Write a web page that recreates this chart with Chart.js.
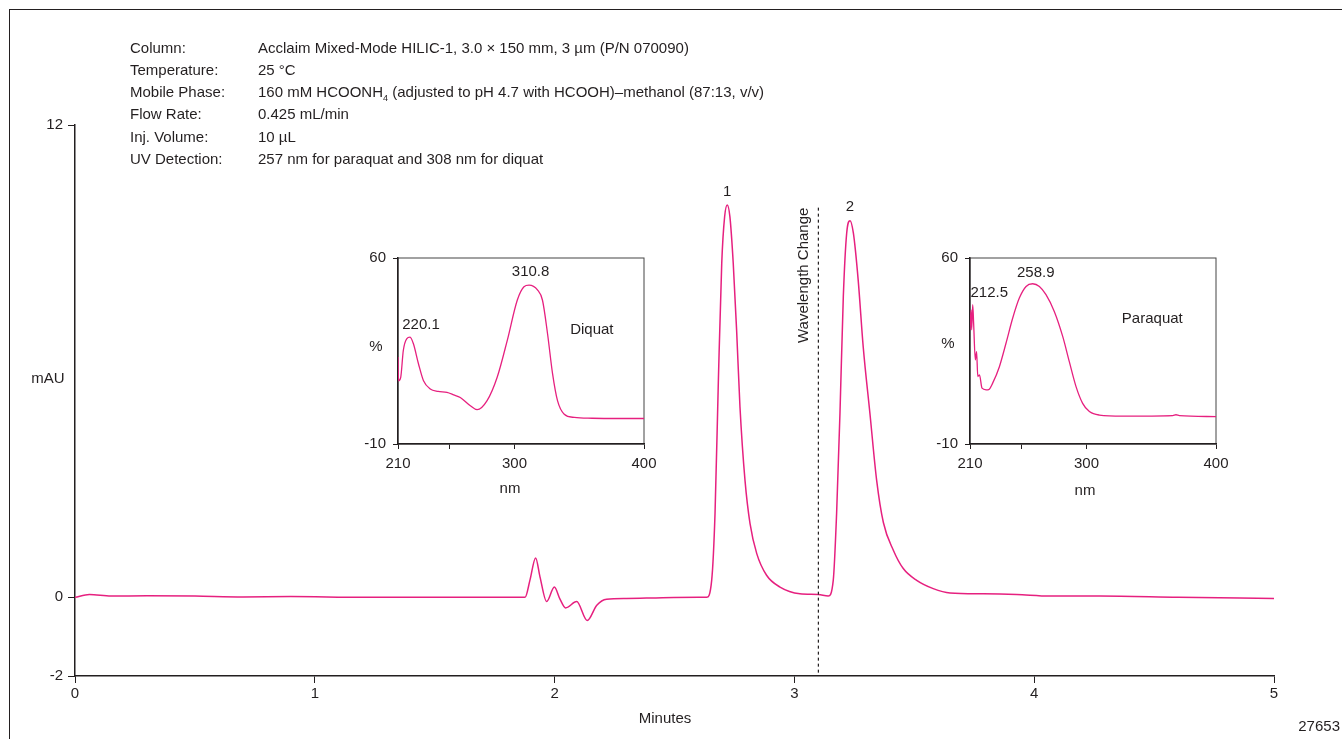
<!DOCTYPE html>
<html>
<head>
<meta charset="utf-8">
<script src="https://cdn.jsdelivr.net/npm/chart.js@4.4.0/dist/chart.umd.min.js"></script>
<style>
body{margin:0;background:#fff;}
#wrap{position:relative;width:1342px;height:739px;overflow:hidden;font-family:"Liberation Sans Narrow","Liberation Sans",Arial,sans-serif;color:#231f20;}
#frame{position:absolute;left:9px;top:9px;width:1400px;height:800px;border-left:1px solid #231f20;border-top:1px solid #231f20;}
canvas{position:absolute;}
.t{position:absolute;font-size:15px;line-height:18px;white-space:nowrap;}
.c{transform:translateX(-50%);}
.r{transform:translateX(-100%);}
</style>
</head>
<body>
<div id="wrap">
<div id="frame"></div>
<canvas id="main" width="1342" height="739" style="left:0;top:0;"></canvas>
<canvas id="diquat" width="330" height="270" style="left:330px;top:240px;"></canvas>
<canvas id="paraquat" width="330" height="270" style="left:902px;top:240px;"></canvas>

<div class="t" style="left:130px;top:39px;">Column:</div>
<div class="t" style="left:258px;top:39px;">Acclaim Mixed-Mode HILIC-1, 3.0 × 150 mm, 3 µm (P/N 070090)</div>
<div class="t" style="left:130px;top:61px;">Temperature:</div>
<div class="t" style="left:258px;top:61px;">25 °C</div>
<div class="t" style="left:130px;top:83px;">Mobile Phase:</div>
<div class="t" style="left:258px;top:83px;">160 mM HCOONH<sub style="font-size:9px;">4</sub> (adjusted to pH 4.7 with HCOOH)–methanol (87:13, v/v)</div>
<div class="t" style="left:130px;top:105px;">Flow Rate:</div>
<div class="t" style="left:258px;top:105px;">0.425 mL/min</div>
<div class="t" style="left:130px;top:128px;">Inj. Volume:</div>
<div class="t" style="left:258px;top:128px;">10 µL</div>
<div class="t" style="left:130px;top:150px;">UV Detection:</div>
<div class="t" style="left:258px;top:150px;">257 nm for paraquat and 308 nm for diquat</div>

<div class="t c" style="left:48px;top:369px;">mAU</div>
<div class="t c" style="left:665px;top:709px;">Minutes</div>
<div class="t r" style="left:1340px;top:717px;">27653</div>
<div class="t c" style="left:376px;top:337px;">%</div>
<div class="t c" style="left:510px;top:479px;">nm</div>
<div class="t c" style="left:948px;top:334px;">%</div>
<div class="t c" style="left:1085px;top:481px;">nm</div>
</div>

<script>
// chromatogram (minutes, mAU)
var times = [0, 0.06, 0.15, 0.3, 0.5, 0.7, 0.9, 1.2, 1.5, 1.8, 1.877, 1.897, 1.921, 1.939, 1.967, 1.999, 2.022, 2.046, 2.092, 2.136, 2.176, 2.217, 2.3, 2.45, 2.6,
  2.634, 2.655, 2.669, 2.683, 2.697, 2.709, 2.720, 2.731, 2.745, 2.759, 2.773, 2.794, 2.815, 2.843, 2.884, 2.940, 3.023, 3.100, 3.141,
  3.162, 3.176, 3.190, 3.204, 3.218, 3.232, 3.246, 3.266, 3.287, 3.315, 3.343, 3.371, 3.413, 3.454, 3.510, 3.579, 3.649, 3.788, 3.927, 4.066, 4.274, 4.6, 5];
var mau = [0, 0.07, 0.03, 0.04, 0.03, 0.01, 0.02, 0, 0, 0, 0, 0.43, 1.0, 0.52, -0.11, 0.26, -0.04, -0.27, -0.11, -0.59, -0.2, -0.05, -0.03, -0.01, 0,
  0, 0.43, 2.13, 5.52, 8.49, 9.67, 9.97, 9.67, 8.48, 6.79, 4.84, 2.97, 1.87, 1.11, 0.56, 0.26, 0.09, 0.07, 0.03,
  0.43, 2.13, 4.67, 7.64, 9.25, 9.57, 9.25, 8.06, 6.36, 4.67, 2.97, 1.9, 1.19, 0.73, 0.43, 0.22, 0.11, 0.09, 0.07, 0.03, 0.03, 0.0, -0.03];
var xTicks = [0, 1, 2, 3, 4, 5];
var yTicks = [-2, 0, 12];
var peakNames = ['1', '2'];
var peakTimes = [2.720, 3.232];
var switchTime = 3.1;

// UV spectra (nm, %)
var diquatNm = [210, 210.4, 212.1, 214.1, 216.7, 219.3, 221.9, 225.8, 229.7, 234.9, 241, 247.8, 253, 258.1, 265.9, 271.1, 278.8, 286.6, 294.4,
  302.1, 307.3, 311.2, 317.7, 321.6, 325.5, 329.4, 333.2, 338.4, 346.2, 360, 380, 400];
var diquatPct = [22.7, 13.8, 15.1, 25.2, 29.6, 30.2, 27.7, 20.2, 13.8, 10.7, 9.8, 9.4, 8.5, 7.5, 4.4, 2.9, 6.3, 15.1, 29,
  44.1, 49.2, 49.8, 48, 44.1, 31.5, 16.4, 6.3, 1.2, 0, -0.3, -0.4, -0.4];
var paraquatNm = [210, 210.8, 211.3, 212.1, 212.8, 214.1, 215.1, 216, 217.3, 219.3, 222.4, 224.5, 227.5, 232.7, 237.8, 243, 248.1, 253.3, 258.4,
  263.6, 268.7, 275.1, 281.6, 286.7, 291.9, 297, 302.2, 309.9, 327.9, 366.6, 369.1, 371.7, 400];
var paraquatPct = [33, 40.5, 33, 42.4, 35.5, 21.7, 24.8, 15.4, 16, 11, 10.4, 10.5, 12.9, 19.1, 27.9, 37.4, 44.9, 49.3, 50.3,
  49.3, 46.2, 39.9, 30.5, 21, 11.6, 5.3, 2.2, 0.9, 0.5, 0.7, 1.0, 0.7, 0.3];
var nmTicks = [210, 250, 300, 400];
var nmLabels = [210, 300, 400];
var pctTicks = [-10, 60];
var diquatNotes = [['220.1', 227.8, 34.7], ['310.8', 312.4, 54.7], ['Diquat', 359.7, 32.9]];
var paraquatNotes = [['212.5', 224.9, 46.8], ['258.9', 260.8, 54.3], ['Paraquat', 350.8, 37.1]];

var ink = '#231f20';
var pink = '#e6207f';
var fam = '"Liberation Sans Narrow","Liberation Sans",Arial,sans-serif';
Chart.defaults.font.family = fam;
Chart.defaults.font.size = 15;
Chart.defaults.color = ink;
Chart.defaults.animation = false;

function pts(xs, ys) {
  return xs.map(function (v, i) { return {x: v, y: ys[i]}; });
}

// keep the plot box where it is, whatever the edge labels need
function fixX(h) {
  return function (s) { s.height = h; s.paddingLeft = 0; s.paddingRight = 0; };
}
function fixY(w) {
  return function (s) { s.width = w; s.paddingTop = 0; s.paddingBottom = 0; };
}

var mainMarks = {
  id: 'mainMarks',
  afterDatasetsDraw: function (chart) {
    var ctx = chart.ctx, xs = chart.scales.x, ys = chart.scales.y;
    var lx = xs.getPixelForValue(switchTime);
    ctx.save();
    ctx.strokeStyle = ink;
    ctx.lineWidth = 1.2;
    ctx.setLineDash([3, 3]);
    ctx.beginPath();
    ctx.moveTo(lx, ys.getPixelForValue(9.9));
    ctx.lineTo(lx, ys.getPixelForValue(-2));
    ctx.stroke();
    ctx.setLineDash([]);
    ctx.fillStyle = ink;
    ctx.font = '15px ' + fam;
    ctx.textAlign = 'center';
    ctx.textBaseline = 'bottom';
    peakNames.forEach(function (n, i) {
      var v = mau[times.indexOf(peakTimes[i])];
      ctx.fillText(n, xs.getPixelForValue(peakTimes[i]), ys.getPixelForValue(v) - 6);
    });
    ctx.translate(lx - 15, ys.getPixelForValue(9.9));
    ctx.rotate(-Math.PI / 2);
    ctx.textAlign = 'right';
    ctx.textBaseline = 'middle';
    ctx.fillText('Wavelength Change', 0, 0);
    ctx.restore();
  }
};

new Chart(document.getElementById('main'), {
  type: 'line',
  data: {
    datasets: [{
      data: pts(times, mau),
      borderColor: pink,
      borderWidth: 1.5,
      pointRadius: 0,
      cubicInterpolationMode: 'monotone'
    }]
  },
  options: {
    responsive: false,
    layout: {padding: {left: 0, top: 125, right: 68, bottom: 0}},
    plugins: {legend: {display: false}, tooltip: {enabled: false}},
    scales: {
      x: {
        type: 'linear', min: 0, max: 5,
        afterBuildTicks: function (s) { s.ticks = xTicks.map(function (v) { return {value: v}; }); },
        afterFit: fixX(63),
        ticks: {padding: 2, maxRotation: 0},
        grid: {drawOnChartArea: false, tickLength: 7, color: ink},
        border: {color: ink, width: 1.5}
      },
      y: {
        type: 'linear', min: -2, max: 12,
        afterBuildTicks: function (s) { s.ticks = yTicks.map(function (v) { return {value: v}; }); },
        afterFit: fixY(75),
        ticks: {padding: 5},
        grid: {drawOnChartArea: false, tickLength: 7, color: ink},
        border: {color: ink, width: 1.5}
      }
    }
  },
  plugins: [mainMarks]
});

function inset(id, nm, pct, notes) {
  var boxAndNotes = {
    id: 'boxAndNotes',
    beforeDraw: function (chart) {
      var a = chart.chartArea, ctx = chart.ctx;
      ctx.save();
      ctx.strokeStyle = '#444';
      ctx.lineWidth = 1;
      ctx.strokeRect(a.left, a.top, a.right - a.left, a.bottom - a.top);
      ctx.restore();
    },
    afterDatasetsDraw: function (chart) {
      var ctx = chart.ctx, xs = chart.scales.x, ys = chart.scales.y;
      ctx.save();
      ctx.fillStyle = ink;
      ctx.font = '15px ' + fam;
      ctx.textAlign = 'center';
      ctx.textBaseline = 'middle';
      notes.forEach(function (n) {
        ctx.fillText(n[0], xs.getPixelForValue(n[1]), ys.getPixelForValue(n[2]));
      });
      ctx.restore();
    }
  };
  return new Chart(document.getElementById(id), {
    type: 'line',
    data: {
      datasets: [{
        data: pts(nm, pct),
        borderColor: pink,
        borderWidth: 1.3,
        pointRadius: 0,
        cubicInterpolationMode: 'monotone'
      }]
    },
    options: {
      responsive: false,
      layout: {padding: {left: 0, top: 18, right: 16, bottom: 0}},
      plugins: {legend: {display: false}, tooltip: {enabled: false}},
      scales: {
        x: {
          type: 'linear', min: 210, max: 400,
          afterBuildTicks: function (s) { s.ticks = nmTicks.map(function (v) { return {value: v}; }); },
          afterFit: fixX(66),
          ticks: {padding: 6, maxRotation: 0, autoSkip: false,
            callback: function (v) { return nmLabels.indexOf(v) >= 0 ? String(v) : ''; }},
          grid: {drawOnChartArea: false, tickLength: 5, color: ink},
          border: {color: ink, width: 1.5}
        },
        y: {
          type: 'linear', min: -10, max: 60,
          afterBuildTicks: function (s) { s.ticks = pctTicks.map(function (v) { return {value: v}; }); },
          afterFit: fixY(68),
          ticks: {padding: 7},
          grid: {drawOnChartArea: false, tickLength: 5, color: ink},
          border: {color: ink, width: 1.5}
        }
      }
    },
    plugins: [boxAndNotes]
  });
}

inset('diquat', diquatNm, diquatPct, diquatNotes);
inset('paraquat', paraquatNm, paraquatPct, paraquatNotes);
</script>
</body>
</html>
